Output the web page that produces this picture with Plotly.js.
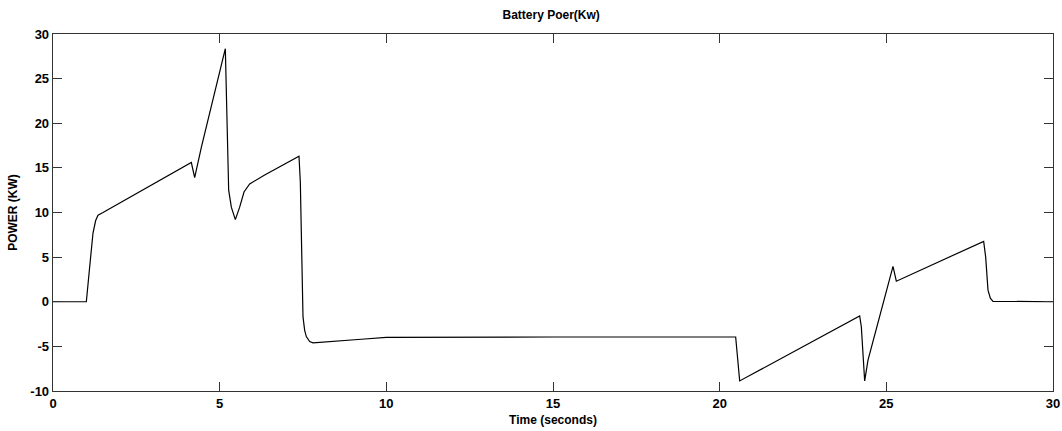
<!DOCTYPE html>
<html>
<head>
<meta charset="utf-8">
<script src="https://cdn.plot.ly/plotly-3.0.1.min.js"></script>
<style>html,body{margin:0;padding:0;background:#fff;}#chart{width:1062px;height:431px;}</style>
</head>
<body>
<div id="chart"></div>
<script>
const timeSec = [0, 1.0, 1.1, 1.2, 1.28, 1.35, 1.5, 4.15, 4.25, 4.45, 5.17, 5.2, 5.24, 5.27, 5.35, 5.47, 5.6, 5.73, 5.9, 6.35, 7.38, 7.42, 7.45, 7.5, 7.55, 7.6, 7.7, 7.8, 9.25, 10.0, 15.0, 20.48, 20.6, 24.2, 24.25, 24.35, 24.45, 25.2, 25.3, 27.92, 27.98, 28.05, 28.12, 28.2, 30];
const powerKw = [0, 0, 3.9, 7.7, 9.1, 9.7, 10.0, 15.6, 13.9, 17.3, 28.35, 22.75, 17.3, 12.5, 10.6, 9.2, 10.6, 12.3, 13.2, 14.2, 16.3, 13.4, 7.7, -1.7, -3.2, -3.9, -4.45, -4.6, -4.2, -4.0, -3.95, -3.95, -8.87, -1.6, -2.8, -8.87, -6.55, 3.97, 2.3, 6.77, 5.0, 1.3, 0.4, 0.05, 0];
const xTicks = [0, 5, 10, 15, 20, 25, 30];
const yTicks = [-10, -5, 0, 5, 10, 15, 20, 25, 30];

const fontFam = '"Liberation Sans", Arial, sans-serif';
const tickFont = {family: fontFam, size: 13, color: '#000', weight: 'bold'};

const trace = {
  x: timeSec, y: powerKw, type: 'scatter', mode: 'lines',
  line: {color: '#000', width: 1.2, shape: 'linear'}, hoverinfo: 'skip'
};

const axisCommon = {
  showgrid: false, zeroline: false, showline: true, mirror: 'ticks',
  linecolor: '#333', linewidth: 1.3, ticks: 'inside', ticklen: 9,
  tickcolor: '#333', tickwidth: 1, tickfont: tickFont
};

const layout = {
  width: 1062, height: 431,
  margin: {l: 53, r: 9, t: 34, b: 40},
  paper_bgcolor: '#fff', plot_bgcolor: '#fff',
  showlegend: false,
  title: {text: 'Battery Poer(Kw)', x: 0.519, xanchor: 'center', y: 0.965, yanchor: 'middle',
          font: {family: fontFam, size: 12, color: '#000', weight: 'bold'}},
  xaxis: Object.assign({}, axisCommon, {
    range: [0, 30], tickvals: xTicks, ticktext: xTicks.map(String),
    title: {text: 'Time (seconds)', standoff: 5, font: {family: fontFam, size: 12, color: '#000', weight: 'bold'}}
  }),
  yaxis: Object.assign({}, axisCommon, {
    range: [-10, 30], tickvals: yTicks, ticktext: yTicks.map(String),
    title: {text: 'POWER (KW)', standoff: 10, font: {family: fontFam, size: 12, color: '#000', weight: 'bold'}}
  })
};

Plotly.newPlot('chart', [trace], layout, {staticPlot: true, displayModeBar: false});
</script>
</body>
</html>
